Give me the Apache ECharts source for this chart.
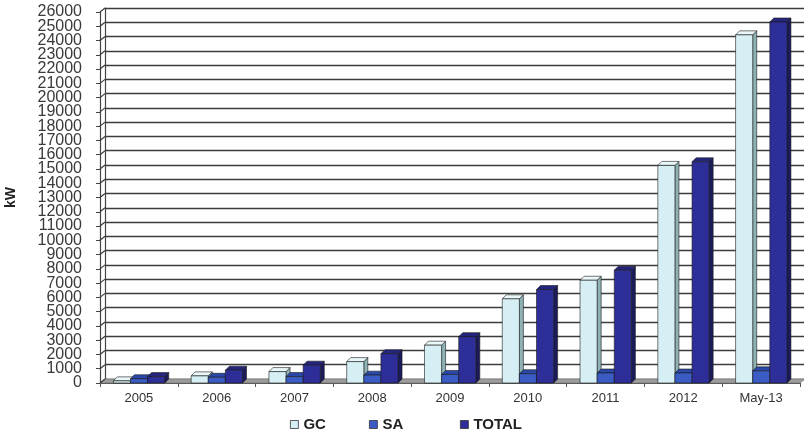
<!DOCTYPE html>
<html>
<head>
<meta charset="utf-8">
<script src="https://cdn.jsdelivr.net/npm/echarts@6/dist/echarts.min.js"></script>
<style>
  html, body { margin: 0; padding: 0; background: #ffffff; }
  #chart { width: 804px; height: 437px; }
</style>
</head>
<body>
<div id="chart"></div>
<script>
// Installed capacity by year (kW)
const categories = ['2005', '2006', '2007', '2008', '2009', '2010', '2011', '2012', 'May-13'];
const gcValues = [150, 500, 800, 1500, 2650, 5900, 7200, 15250, 24400];
const saValues = [300, 400, 450, 550, 600, 650, 700, 700, 850];
const totalValues = [450, 900, 1250, 2050, 3250, 6550, 7900, 15500, 25300];
const yTicks = [0, 1000, 2000, 3000, 4000, 5000, 6000, 7000, 8000, 9000, 10000, 11000, 12000, 13000,
  14000, 15000, 16000, 17000, 18000, 19000, 20000, 21000, 22000, 23000, 24000, 25000, 26000];

const Y_MAX = 26000;
const Y_STEP = 1000;
const WALL_DX = 5, WALL_DY = -4;   // depth of back wall
const BAR_DX = 4, BAR_DY = -4;     // depth of each bar
const EDGE = { stroke: '#1a1a1a', lineWidth: 0.6 };
const FONT = 'Liberation Sans, Arial, sans-serif';

const palette = {
  GC:    { front: '#d6eff4', top: '#eaf7f9', side: '#8fb3b4' },
  SA:    { front: '#3a5cc4', top: '#2b48a8', side: '#22388a' },
  TOTAL: { front: '#2e2e98', top: '#25257d', side: '#1b1b5c' }
};

// Prism-shaped bar: side face, top face and front face
function prism(colors, offsetFrac) {
  return function (params, api) {
    const idx = api.value(0);
    const val = api.value(1);
    const top = api.coord([idx, val]);
    const base = api.coord([idx, 0]);
    const band = api.size([1, 0])[0];
    const w = band * 0.22;
    const x0 = top[0] + band * offsetFrac;
    const x1 = x0 + w;
    const y0 = base[1];
    const y1 = top[1];
    return {
      type: 'group',
      children: [
        { type: 'polygon',
          shape: { points: [[x1, y0], [x1 + BAR_DX, y0 + BAR_DY], [x1 + BAR_DX, y1 + BAR_DY], [x1, y1]] },
          style: Object.assign({ fill: colors.side }, EDGE) },
        { type: 'polygon',
          shape: { points: [[x0, y1], [x1, y1], [x1 + BAR_DX, y1 + BAR_DY], [x0 + BAR_DX, y1 + BAR_DY]] },
          style: Object.assign({ fill: colors.top }, EDGE) },
        { type: 'rect',
          shape: { x: x0, y: y1, width: w, height: y0 - y1 },
          style: Object.assign({ fill: colors.front }, EDGE) }
      ]
    };
  };
}

function pairs(values) {
  return values.map((v, i) => [i, v]);
}

function legendAt(name, left) {
  return {
    top: 417, left: left, padding: 0,
    itemWidth: 8, itemHeight: 8,
    icon: 'rect',
    textStyle: { fontFamily: FONT, fontSize: 15, fontWeight: 'bold', color: '#222' },
    data: [{ name: name, itemStyle: { color: palette[name].front, borderColor: '#333', borderWidth: 0.8 } }]
  };
}

const chart = echarts.init(document.getElementById('chart'), null, { renderer: 'canvas' });

const option = {
  backgroundColor: '#ffffff',
  animation: false,
  grid: [
    { left: 100, right: 4, top: 12, bottom: 54, containLabel: false, outerBoundsMode: 'none' },   // front plane
    { left: 105, right: 0, top: 8, bottom: 58, containLabel: false, outerBoundsMode: 'none' }     // back wall
  ],
  xAxis: [
    {
      gridIndex: 0, type: 'category', data: categories,
      axisLine: { show: true, lineStyle: { color: '#555', width: 1 } },
      axisTick: { show: true, length: 4, lineStyle: { color: '#555' } },
      axisLabel: { margin: 9, fontFamily: FONT, fontSize: 13, color: '#333' },
      splitLine: { show: false }
    },
    {
      gridIndex: 1, type: 'category', data: categories, show: false
    }
  ],
  yAxis: [
    {
      gridIndex: 0, type: 'value', min: 0, max: Y_MAX, interval: Y_STEP,
      name: 'kW', nameLocation: 'middle', nameGap: 82, nameRotate: 90,
      nameTextStyle: { fontFamily: FONT, fontSize: 14, fontWeight: 'bold', color: '#222' },
      axisLine: { show: true, lineStyle: { color: '#444', width: 1.2 } },
      axisTick: { show: true, length: 4, lineStyle: { color: '#444' } },
      // the densely packed tick labels are drawn by the label series below
      axisLabel: { show: false },
      splitLine: { show: false }
    },
    {
      gridIndex: 1, type: 'value', min: 0, max: Y_MAX, interval: Y_STEP,
      axisLine: { show: true, lineStyle: { color: '#444', width: 1.2 } },
      axisTick: { show: false },
      axisLabel: { show: false },
      splitLine: { show: true, showMinLine: true, showMaxLine: true, lineStyle: { color: '#3c3c3c', width: 1.4 } }
    }
  ],
  legend: [legendAt('GC', 290), legendAt('SA', 369), legendAt('TOTAL', 460)],
  series: [
    {
      // floor of the plot
      type: 'custom', xAxisIndex: 0, yAxisIndex: 0, silent: true, z: 1, clip: false,
      data: [[0, 0]],
      renderItem: function (params, api) {
        const cs = params.coordSys;
        const yb = api.coord([0, 0])[1];
        return {
          type: 'polygon',
          shape: { points: [[cs.x, yb], [cs.x + cs.width, yb], [cs.x + cs.width + WALL_DX, yb + WALL_DY], [cs.x + WALL_DX, yb + WALL_DY]] },
          style: { fill: '#9c9c9c', stroke: '#6e6e6e', lineWidth: 0.6 }
        };
      }
    },
    {
      // left wall: links each front tick to its back-wall gridline, plus the tick label
      type: 'custom', xAxisIndex: 0, yAxisIndex: 0, silent: true, z: 1, clip: false,
      data: yTicks.map(v => [0, v]),
      renderItem: function (params, api) {
        const cs = params.coordSys;
        const v = api.value(1);
        const y = api.coord([0, v])[1];
        return {
          type: 'group',
          children: [
            { type: 'line',
              shape: { x1: cs.x, y1: y, x2: cs.x + WALL_DX, y2: y + WALL_DY },
              style: { stroke: '#3c3c3c', lineWidth: 1.2 } },
            { type: 'text',
              x: cs.x - 18, y: y,
              style: { text: String(v), align: 'right', verticalAlign: 'middle',
                       font: '16px ' + FONT, fill: '#3a3a3a' } }
          ]
        };
      }
    },
    {
      name: 'GC', type: 'custom', xAxisIndex: 0, yAxisIndex: 0, z: 3, clip: false,
      itemStyle: { color: palette.GC.front },
      data: pairs(gcValues),
      renderItem: prism(palette.GC, -0.328)
    },
    {
      name: 'SA', type: 'custom', xAxisIndex: 0, yAxisIndex: 0, z: 4, clip: false,
      itemStyle: { color: palette.SA.front },
      data: pairs(saValues),
      renderItem: prism(palette.SA, -0.108)
    },
    {
      name: 'TOTAL', type: 'custom', xAxisIndex: 0, yAxisIndex: 0, z: 5, clip: false,
      itemStyle: { color: palette.TOTAL.front },
      data: pairs(totalValues),
      renderItem: prism(palette.TOTAL, 0.112)
    }
  ]
};

chart.setOption(option);
</script>
</body>
</html>
